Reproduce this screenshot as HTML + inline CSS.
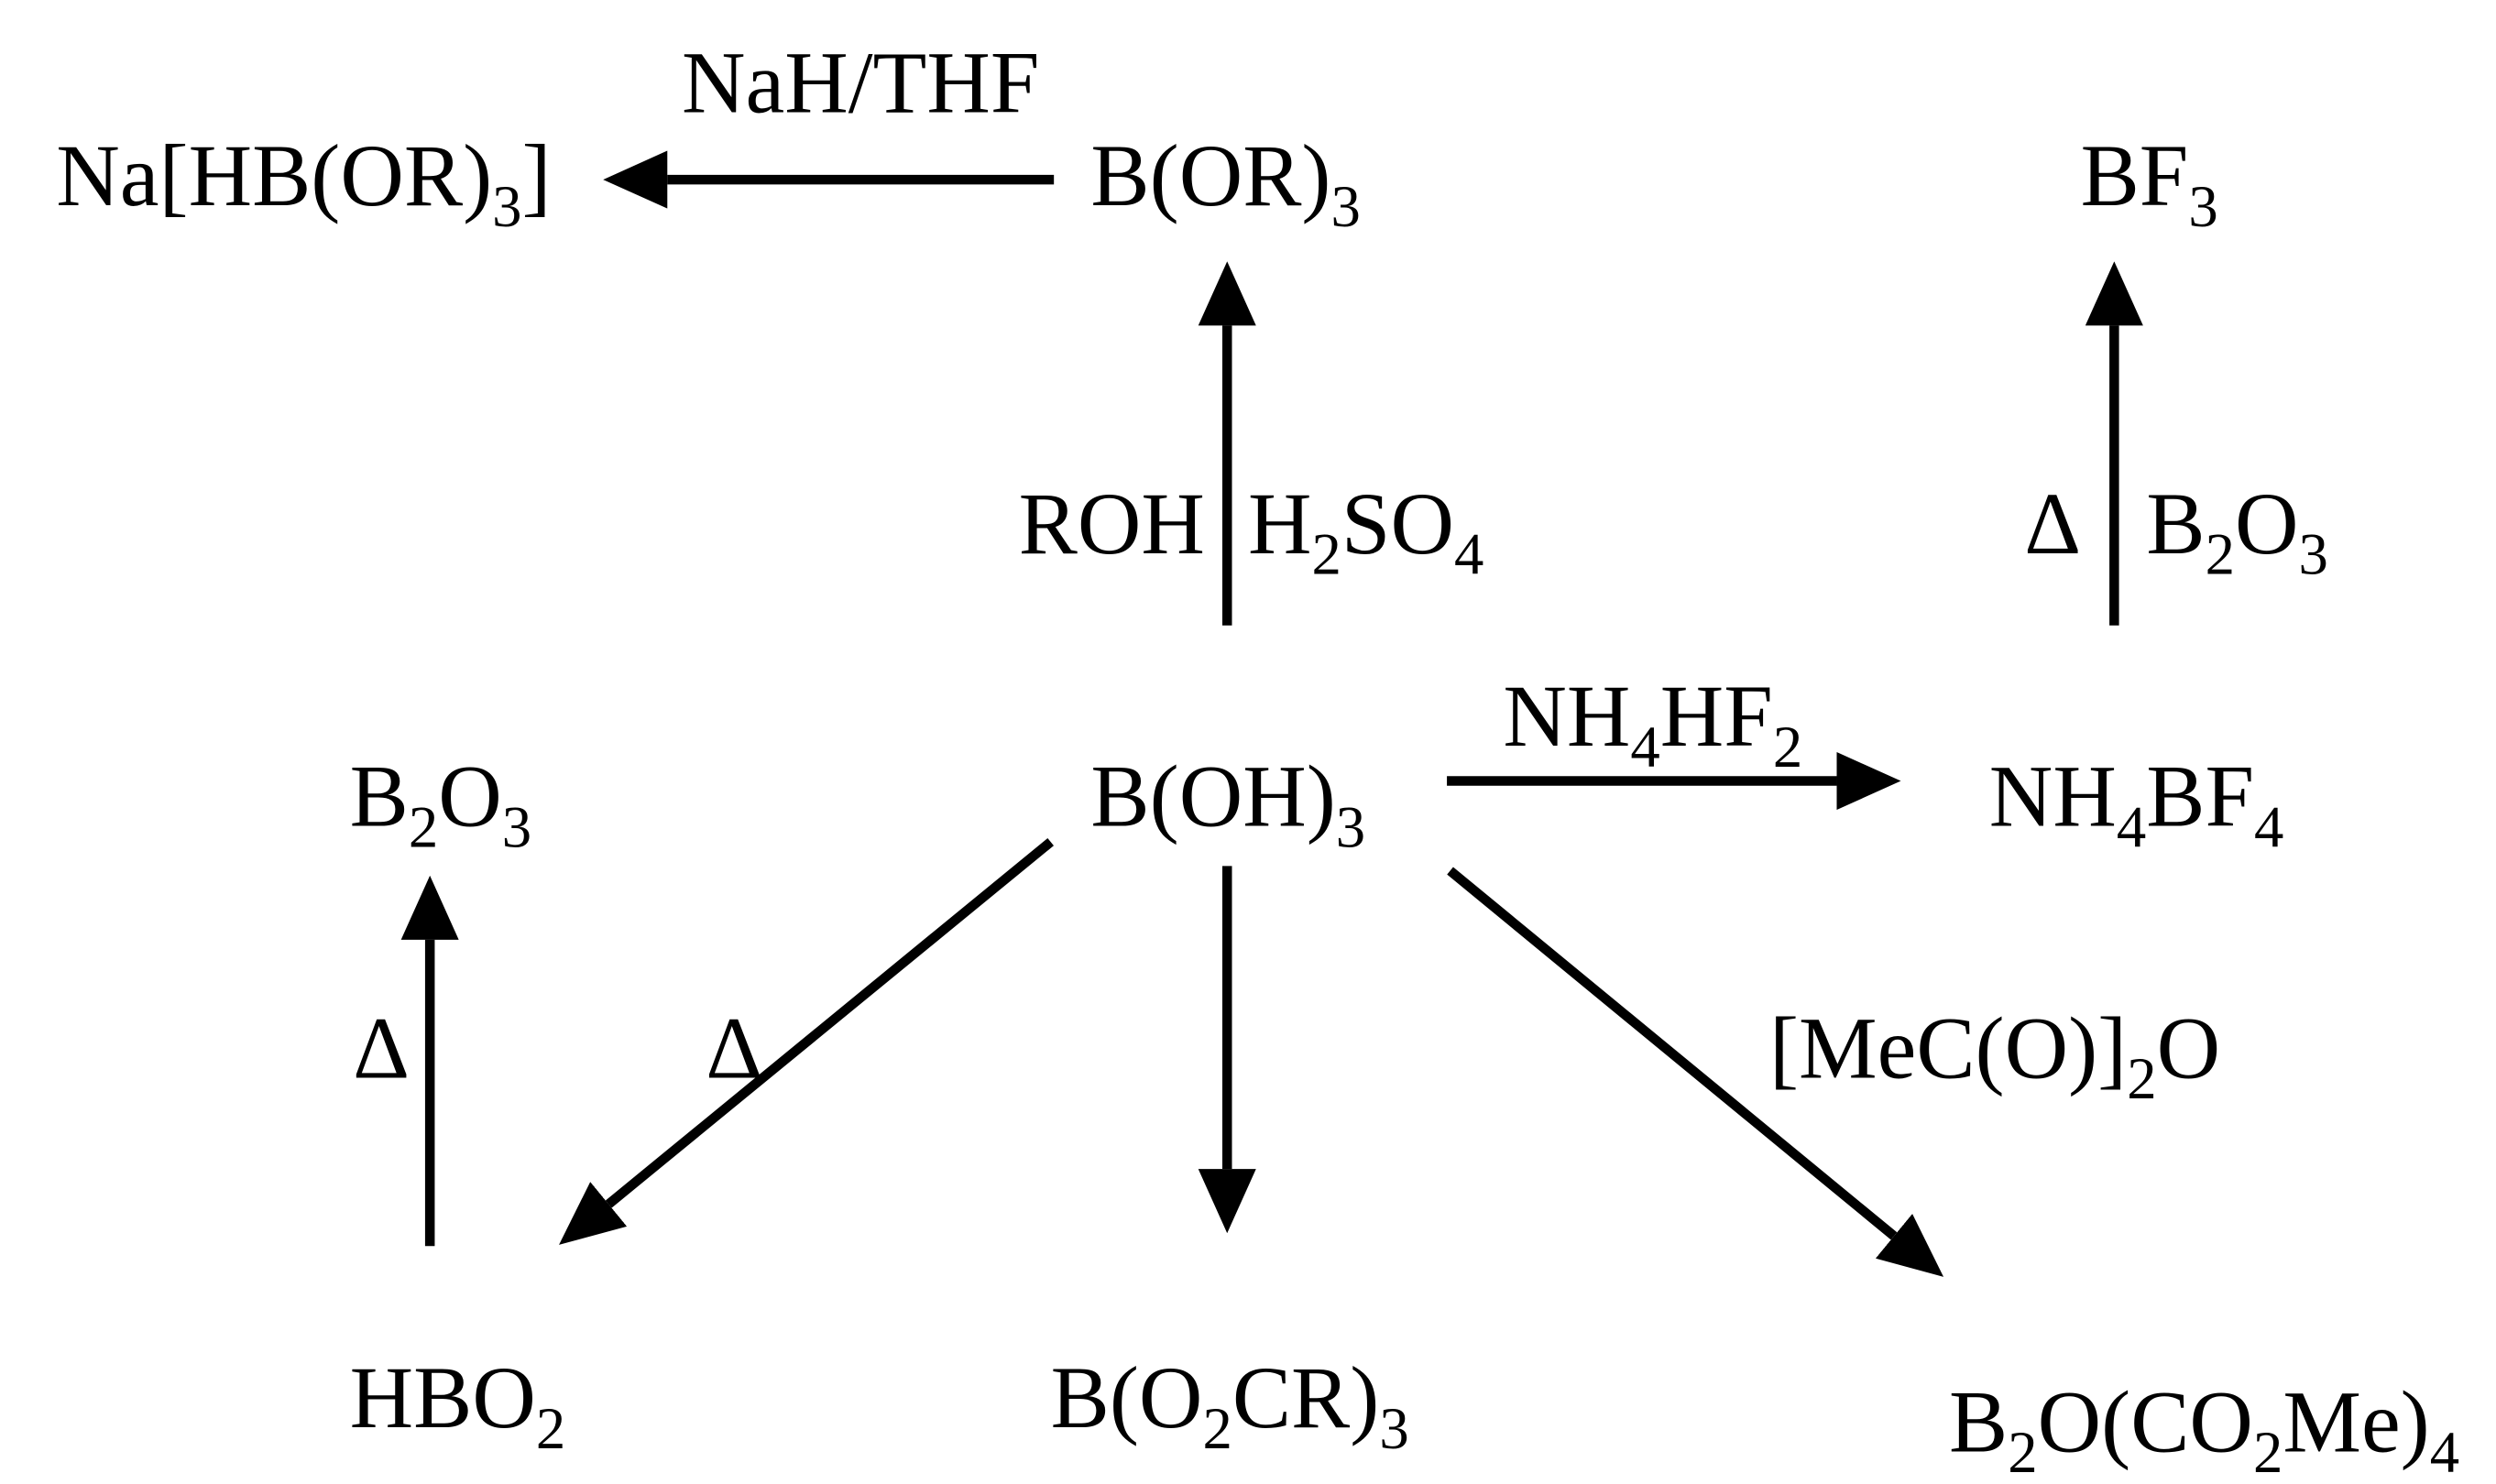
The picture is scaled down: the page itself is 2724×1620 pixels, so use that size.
<!DOCTYPE html>
<html><head><meta charset="utf-8"><style>
html,body{margin:0;padding:0;background:#fff;}
svg{display:block;}
text{font-family:"Liberation Serif",serif;font-size:55px;fill:#000;}
.s{font-size:37px;}
</style></head><body>
<svg width="2724" height="1620" viewBox="0 0 1556 925.4" preserveAspectRatio="none" xmlns="http://www.w3.org/2000/svg">
<defs>
<marker id="a" markerUnits="userSpaceOnUse" markerWidth="40" markerHeight="36" refX="0" refY="18" orient="auto">
<path d="M0,0 L40,18 L0,36 z" fill="#000"/>
</marker>
</defs>
<g stroke="#000" stroke-width="6" fill="none">
<line x1="657" y1="112" x2="416" y2="112" marker-end="url(#a)"/>
<line x1="765" y1="390" x2="765" y2="203" marker-end="url(#a)"/>
<line x1="1318" y1="390" x2="1318" y2="203" marker-end="url(#a)"/>
<line x1="902" y1="487" x2="1145" y2="487" marker-end="url(#a)"/>
<line x1="268" y1="777" x2="268" y2="586" marker-end="url(#a)"/>
<line x1="655" y1="525" x2="379.4" y2="750.9" marker-end="url(#a)"/>
<line x1="765" y1="540" x2="765" y2="729" marker-end="url(#a)"/>
<line x1="904" y1="543" x2="1180.7" y2="770.8" marker-end="url(#a)"/>
</g>
<text x="35" y="128">Na[HB(OR)<tspan class="s" dy="13">3</tspan><tspan dy="-13">]</tspan></text>
<text x="425" y="70">NaH/THF</text>
<text x="680" y="128">B(OR)<tspan class="s" dy="13">3</tspan></text>
<text x="1297" y="128">BF<tspan class="s" dy="13">3</tspan></text>
<text x="635" y="345">ROH</text>
<text x="778" y="345">H<tspan class="s" dy="13">2</tspan><tspan dy="-13">SO</tspan><tspan class="s" dy="13">4</tspan></text>
<text x="1262" y="345">Δ</text>
<text x="1338" y="345">B<tspan class="s" dy="13">2</tspan><tspan dy="-13">O</tspan><tspan class="s" dy="13">3</tspan></text>
<text x="937" y="465">NH<tspan class="s" dy="13">4</tspan><tspan dy="-13">HF</tspan><tspan class="s" dy="13">2</tspan></text>
<text x="218" y="515">B<tspan class="s" dy="13">2</tspan><tspan dy="-13">O</tspan><tspan class="s" dy="13">3</tspan></text>
<text x="680" y="515">B(OH)<tspan class="s" dy="13">3</tspan></text>
<text x="1240" y="515">NH<tspan class="s" dy="13">4</tspan><tspan dy="-13">BF</tspan><tspan class="s" dy="13">4</tspan></text>
<text x="220" y="672">Δ</text>
<text x="440" y="672">Δ</text>
<text x="1103" y="672">[MeC(O)]<tspan class="s" dy="13">2</tspan><tspan dy="-13">O</tspan></text>
<text x="218" y="890">HBO<tspan class="s" dy="13">2</tspan></text>
<text x="655" y="890">B(O<tspan class="s" dy="13">2</tspan><tspan dy="-13">CR)</tspan><tspan class="s" dy="13">3</tspan></text>
<text x="1215" y="905">B<tspan class="s" dy="13">2</tspan><tspan dy="-13">O(CO</tspan><tspan class="s" dy="13">2</tspan><tspan dy="-13">Me)</tspan><tspan class="s" dy="13">4</tspan></text>
</svg>
</body></html>
